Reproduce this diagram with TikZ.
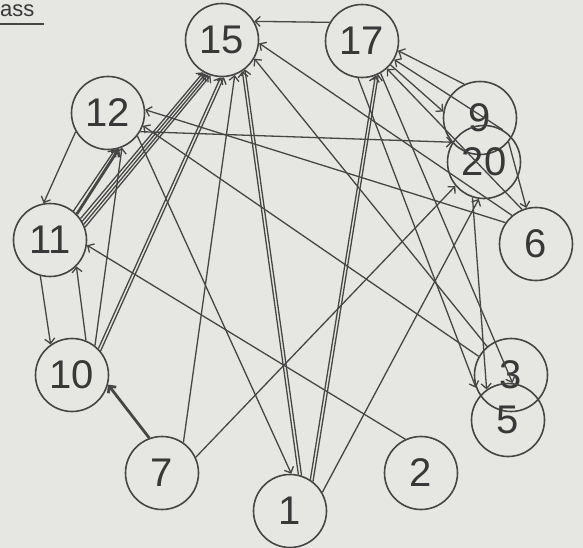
\documentclass[tikz,border=0pt]{standalone}
\usepackage{fontspec}
\setmainfont{Liberation Sans}
\usetikzlibrary{arrows.meta}
\definecolor{paper}{RGB}{230,230,226}
\definecolor{ink}{RGB}{70,70,70}

\begin{document}
\begin{tikzpicture}[x=1pt, y=-1pt,
  vert/.style={draw=ink, circle, line width=1.6pt, minimum size=73pt, inner sep=0pt,
    text=ink!80!black, font=\fontsize{40}{42}\selectfont},
  arrow/.style={-{Straight Barb[length=5pt,width=10pt]}, draw=ink, line width=1.3pt},
  heavy/.style={arrow, line width=2.8pt}]
\path[use as bounding box, fill=paper] (0,0) rectangle (583,548);
\node[anchor=base west, inner sep=0pt, text=ink!80!black, font=\fontsize{22}{23}\selectfont] (hdr) at (0,17) {ass};
\draw[ink, line width=1.5pt] (0,24) -- (44,24);
\node[vert] (v15) at (222,40) {15};
\node[vert] (v17) at (362,41) {17};
\node[vert] (v12) at (108,113) {12};
\node[vert] (v11) at (50,240) {11};
\node[vert] (v9) at (480,118) {9};
\node[vert] (v20) at (484,162) {20};
\node[vert] (v6) at (536,244) {6};
\node[vert] (v10) at (72,375) {10};
\node[vert] (v7) at (162,473) {7};
\node[vert] (v1) at (290,511) {1};
\node[vert] (v2) at (421,473) {2};
\node[vert] (v3) at (511,375) {3};
\node[vert] (v5) at (508,420) {5};
% into 15
\draw[arrow] (v17.150) -- (v15.30);
\draw[arrow] (v6.130) -- (v15.355);
\draw[arrow] (v3.130) -- (v15.330);
\draw[arrow] (v1.72) -- (v15.308);
\draw[arrow] (v1.77) -- (v15.303);
\draw[arrow] (v7.55) -- (v15.290);
\draw[arrow] (v10.40) -- (v15.273);
\draw[arrow] (v10.45) -- (v15.268);
\draw[arrow] (v11.20) -- (v15.252);
\draw[arrow] (v11.25) -- (v15.248);
\draw[arrow] (v11.30) -- (v15.244);
\draw[arrow] (v11.35) -- (v15.240);
% left side
\draw[heavy] (v11.44) -- (v12.287);
\draw[arrow] (v11.51) -- (v12.281);
\draw[arrow] (v12.210) -- (v11.100);
\draw[arrow] (v11.255) -- (v10.125);
\draw[arrow] (v10.68) -- (v11.315);
\draw[arrow] (v10.52) -- (v12.292);
\draw[heavy] (v7.110) -- (v10.345);
\draw[arrow] (v2.115) -- (v11.352);
% into 12
\draw[arrow] (v6.145) -- (v12.5);
\draw[arrow] (v3.150) -- (v12.340);
\draw[arrow] (v12.322) -- (v1.88);
\draw[arrow] (v12.330) -- (v20.148);
% 17 and the right side
\draw[arrow] (v1.52) -- (v17.296);
\draw[arrow] (v1.57) -- (v17.291);
\draw[arrow] (v17.264) -- (v3.200);
\draw[arrow] (v17.300) -- (v5.83);
\draw[arrow] (v17.320) -- (v9.170);
\draw[arrow] (v9.115) -- (v17.345);
\draw[arrow] (v20.60) -- (v17.330);
\draw[arrow] (v6.112) -- (v17.312);
\draw[arrow] (v9.320) -- (v6.105);
\draw[arrow] (v1.30) -- (v20.262);
\draw[arrow] (v7.25) -- (v20.220);
\draw[arrow] (v20.252) -- (v5.125);
\end{tikzpicture}
\end{document}
